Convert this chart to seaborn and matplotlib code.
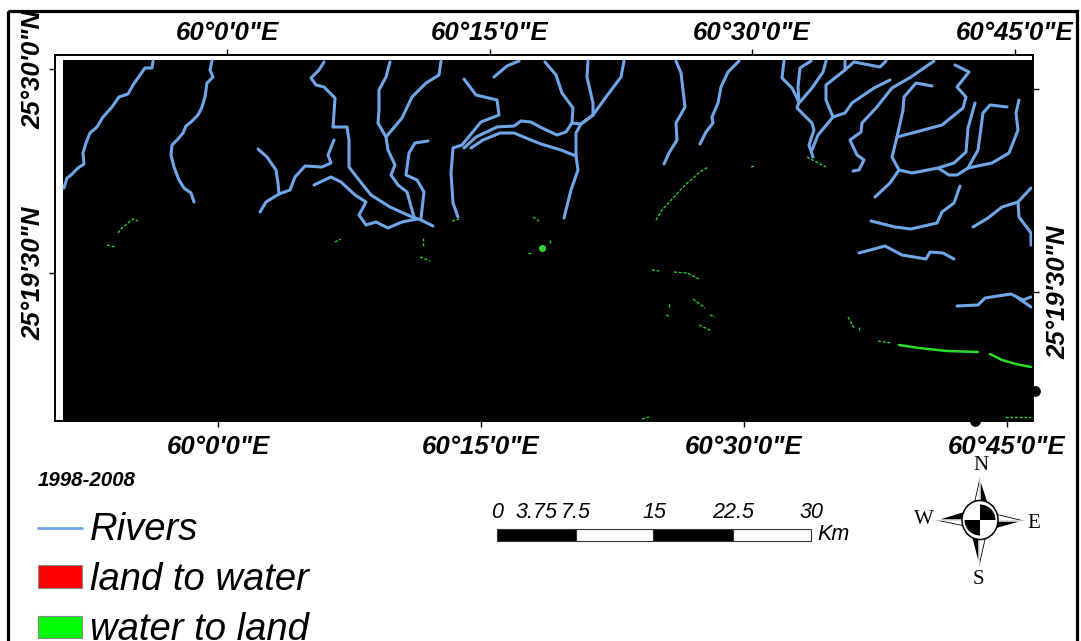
import matplotlib
matplotlib.use("Agg")
import matplotlib.pyplot as plt
import pandas as pd
import seaborn as sns
from matplotlib.lines import Line2D
from matplotlib.patches import Ellipse, Patch, Rectangle, Wedge

W, H = 1081, 641

RIVER_X = [
    [153,152,145,140,133,128,119,112,103,97,90,86,83,84,78,71,67,64],
    [212,210,213,207,205,202,198,191,186,183,178,172,171,174,179,184,191,194],
    [324,319,311,316,324,335,334,333,347,349,349,359,371,390,412,421,433],
    [390,386,379,379,378,386,388,395,391,398,407,414],
    [441,439,426,412,402,386],
    [428,415,409,406,417,424,421],
    [334,328,331,322,305,295,290,279,266,260],
    [258,267,276,278,279],
    [314,331,341,355,366,359,366,376,388,402,417],
    [464,476,497,499,481,462,453,451,453,458],
    [494,507,519],
    [545,556,562,573,572],
    [464,476,497,514,521,531,540,557,566,572,581,593],
    [471,483,500,514,531,541,561,576],
    [588,587,593,593],
    [624,621,606,593],
    [593,581,576,576,578,571,564],
    [676,681,685,676,677,669,664],
    [739,728,721,718,712,713,706,700],
    [784,782,792,799,797,812,814,809,813],
    [811,800,798,799],
    [826,823,812,800],
    [812,818,833,826,826,845,845],
    [845,854,880,886],
    [833,845,852,874,890],
    [934,911,892,876,862,861,850,857,864,859,853],
    [955,969,957,966,963,942,916,897,892,899,890,875],
    [932,916,904,903,899,897],
    [899,912,938,954,966,968,975],
    [938,949,957,968,992,1009,1018,1016,1019],
    [968,978,983,990,1007],
    [960,954,942,937,911,895,871],
    [973,988,1002,1018,1031],
    [1018,1019,1031,1031],
    [859,885,902,926,930,943,954],
    [957,978,985,1011,1023,1031],
    [1018,1031],
]
RIVER_Y = [
    [61,68,68,75,85,94,97,107,117,127,133,143,153,164,168,175,178,188],
    [61,70,77,83,97,107,115,122,126,133,139,145,155,167,180,188,193,202],
    [62,70,78,85,87,98,113,127,127,140,167,180,195,207,217,220,226],
    [62,77,90,110,123,137,150,165,175,185,192,217],
    [61,75,83,97,118,137],
    [141,143,153,175,180,192,218],
    [140,155,163,167,166,177,190,194,202,212],
    [149,157,170,183,194],
    [185,177,182,195,202,215,225,222,228,222,219],
    [79,95,100,115,122,145,148,173,203,217],
    [77,66,61],
    [62,75,93,108,122],
    [148,137,127,126,121,122,127,135,132,123,124,115],
    [148,140,133,133,140,144,150,156],
    [61,77,103,115],
    [61,77,97,115],
    [115,124,133,156,170,190,218],
    [61,73,107,123,140,153,164],
    [61,72,87,103,117,123,132,144],
    [61,78,88,102,108,123,130,145,157],
    [61,68,87,102],
    [61,72,88,102],
    [150,135,117,100,85,70,61],
    [70,62,67,61],
    [117,113,103,88,80],
    [61,77,88,108,123,132,140,155,160,170,171],
    [65,72,87,97,108,125,132,137,157,170,183,197],
    [86,83,97,110,128,137],
    [170,173,168,163,152,128,103],
    [168,175,175,168,163,153,130,113,100],
    [168,150,113,105,107],
    [186,203,212,223,229,227,221],
    [227,218,207,202,188],
    [202,217,233,245],
    [253,246,255,259,252,253,259],
    [306,305,298,294,300,297],
    [298,307],
]

CHANGE_X = [
    [656,662,673,685,700,708],
    [807,826],
    [118,122,128,133,138],
    [107,115],
    [878,892],
    [652,659],
    [674,687,699],
    [693,705],
    [710,715],
    [699,712],
    [669,669],
    [666,670],
    [848,854],
    [859,859],
    [642,649],
    [1005,1031],
    [335,341],
    [423,423],
    [420,430],
    [533,539],
    [528,533],
    [550,550],
    [452,459],
    [751,755],
]
CHANGE_Y = [
    [220,210,198,185,172,167],
    [157,167],
    [233,228,223,219,221],
    [245,247],
    [341,343],
    [270,271],
    [272,273,279],
    [299,308],
    [315,317],
    [325,331],
    [304,309],
    [315,317],
    [317,328],
    [327,331],
    [419,417],
    [417,417],
    [242,239],
    [238,247],
    [257,261],
    [217,221],
    [253,253],
    [240,244],
    [221,219],
    [167,166],
]
COAST_X = [[899,919,947,978], [990,1002,1016,1031]]
COAST_Y = [[345,348,351,352], [354,360,364,367]]
BLOB_X = [542]
BLOB_Y = [248]

TOP_TICKS = [227, 489.5, 752, 1014.5]
BOTTOM_TICKS = [218, 481, 744, 1007]
LON_LABELS = ['60°0\'0"E', '60°15\'0"E', '60°30\'0"E', '60°45\'0"E']
LEFT_TICKS = [69, 273]
LEFT_LABELS = ['25°30\'0"N', '25°19\'30"N']
RIGHT_TICKS = [89, 292]
RIGHT_LABELS = ['', '25°19\'30"N']

SCALE_EDGES = [497, 576, 653, 733, 811]
SCALE_FILLS = ['black', 'white', 'black', 'white']
SCALE_POS = [497, 537, 576, 654, 733, 811]
SCALE_LABELS = ['0', '3.75', '7.5', '15', '22.5', '30']

RIVER_COL = '#6fa6e8'
GREEN_COL = '#27c927'


def long_table(xs, ys):
    rows = []
    for i, (xx, yy) in enumerate(zip(xs, ys)):
        rows.append(pd.DataFrame({'x': xx, 'y': yy, 'part': i}))
    return pd.concat(rows, ignore_index=True)


def draw_parts(ax, xs, ys, color, lw, **kw):
    sns.lineplot(data=long_table(xs, ys), x='x', y='y', units='part',
                 estimator=None, sort=False, color=color, linewidth=lw,
                 legend=False, ax=ax, **kw)


def compass(ax, cx, cy):
    # tip, then the black and the white shoulder of each arm
    arms = [
        ((cx, cy - 42), (cx + 9, cy - 15), (cx - 6, cy - 15), (cx, cy - 15)),
        ((cx + 44, cy + 1), (cx + 15, cy + 9), (cx + 15, cy - 6), (cx + 15, cy + 1)),
        ((cx - 1, cy + 46), (cx - 9, cy + 15), (cx + 6, cy + 15), (cx - 1, cy + 15)),
        ((cx - 44, cy), (cx - 15, cy - 9), (cx - 15, cy + 6), (cx - 15, cy)),
    ]
    for tip, black, white, mid in arms:
        ax.fill([tip[0], white[0], mid[0]], [tip[1], white[1], mid[1]],
                facecolor='white', edgecolor='black', lw=0.6)
        ax.fill([tip[0], black[0], mid[0]], [tip[1], black[1], mid[1]], 'black')
    ax.add_patch(Ellipse((cx, cy), 36, 39, facecolor='white', edgecolor='black', lw=1.1, zorder=4))
    ax.add_patch(Wedge((cx, cy), 15.5, 270, 360, facecolor='black', lw=0, zorder=5))
    ax.add_patch(Wedge((cx, cy), 15.5, 90, 180, facecolor='black', lw=0, zorder=5))
    for s, x, y in [('N', 981, 465), ('W', 924, 520), ('E', 1034, 523), ('S', 978, 579)]:
        ax.text(x, y, s, family='Liberation Serif', fontsize=15, ha='center', va='center')


sns.set_theme(style='white', rc={'text.color': 'black', 'xtick.color': 'black', 'ytick.color': 'black'})
plt.rcParams['font.family'] = ['Liberation Sans', 'DejaVu Sans']

fig = plt.figure(figsize=(W / 100, H / 100), dpi=100)

page = fig.add_axes([0, 0, 1, 1])
page.set_xlim(0, W)
page.set_ylim(H, 0)
page.axis('off')

# page frame, runs off the bottom of the picture
page.add_patch(Rectangle((8, 11), 1069, 660, fill=False, edgecolor='black', lw=2.3))

page.text(38, 481, '1998-2008', fontsize=14.8, fontweight='bold', fontstyle='italic', va='center')

handles = [
    Line2D([], [], color=RIVER_COL, lw=2),
    Patch(facecolor='#ff0000', edgecolor='#888888', lw=0.8),
    Patch(facecolor='#00ff00', edgecolor='#888888', lw=0.8),
]
page.legend(handles, ['Rivers', 'land to water', 'water to land'],
            loc='upper left', bbox_to_anchor=(38, 512), bbox_transform=page.transData,
            frameon=False, borderpad=0, borderaxespad=0, labelspacing=0.37,
            handlelength=1.15, handleheight=0.52, handletextpad=0.2,
            prop={'size': 27.5, 'style': 'italic'})

# scale bar
for left, right, fill in zip(SCALE_EDGES[:-1], SCALE_EDGES[1:], SCALE_FILLS):
    page.barh(535, right - left, left=left, height=12, color=fill, edgecolor='#333333', linewidth=0.8)
for x, s in zip(SCALE_POS, SCALE_LABELS):
    page.text(x, 513, s, fontsize=15.5, fontstyle='italic', ha='center', va='center')
page.text(817, 535, 'Km', fontsize=15.5, fontstyle='italic', ha='left', va='center')

compass(page, 980, 520)

# map
m = fig.add_axes([55 / W, (H - 421) / H, (1033 - 55) / W, (421 - 55) / H])
m.set_xlim(55, 1033)
m.set_ylim(421, 55)
m.set_facecolor('white')
m.add_patch(Rectangle((63, 60), 970, 361, facecolor='black', edgecolor='none', zorder=1))

draw_parts(m, CHANGE_X, CHANGE_Y, GREEN_COL, 1.0, linestyle=(0, (2.2, 1.2)))
draw_parts(m, COAST_X, COAST_Y, '#2bdc2b', 1.8)
sns.scatterplot(x=BLOB_X, y=BLOB_Y, color='#2fd42f', s=26, linewidth=0, ax=m)
draw_parts(m, RIVER_X, RIVER_Y, RIVER_COL, 2.2, solid_joinstyle='round', solid_capstyle='round')

# little bumps of the raster poking out of the map edge
m.scatter([1035, 975], [391, 421], s=45, color='black', clip_on=False, zorder=3)

m.set_xlabel('')
m.set_ylabel('')
for spine in m.spines.values():
    spine.set_color('black')
    spine.set_linewidth(1.4)

label_font = {'fontsize': 18.5, 'fontweight': 'bold', 'fontstyle': 'italic'}

m.xaxis.tick_top()
m.set_xticks(TOP_TICKS)
m.set_xticklabels(LON_LABELS, **label_font)
m.tick_params(axis='x', which='major', top=True, bottom=False, length=4.3, width=1, pad=3, color='black')

bottom = m.secondary_xaxis('bottom')
bottom.set_xticks(BOTTOM_TICKS)
bottom.set_xticklabels(LON_LABELS, **label_font)
bottom.tick_params(length=4.3, width=1, pad=6, color='black')

m.set_yticks(LEFT_TICKS)
m.set_yticklabels(LEFT_LABELS, rotation=90, va='center', **label_font)
m.tick_params(axis='y', left=True, length=4.3, width=1, pad=2.5, color='black')

right = m.secondary_yaxis('right')
right.set_yticks(RIGHT_TICKS)
right.set_yticklabels(RIGHT_LABELS, rotation=90, va='center', **label_font)
right.tick_params(length=4.3, width=1, pad=5, color='black')
right.spines['right'].set_visible(False)
bottom.spines['bottom'].set_visible(False)

fig.savefig('out.png', dpi=100)
